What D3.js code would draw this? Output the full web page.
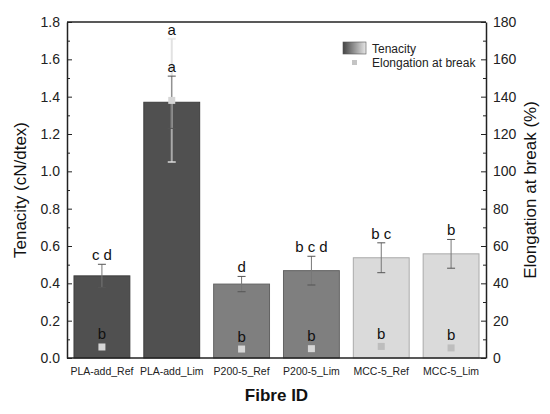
<!DOCTYPE html>
<html lang="en">
<head>
  <meta charset="UTF-8">
  <title>Tenacity and elongation at break</title>
  <script src="https://cdnjs.cloudflare.com/ajax/libs/d3/7.8.5/d3.min.js"></script>
  <style>
    body { margin: 0; padding: 0; background: #fff; }
    svg { display: block; font-family: "Liberation Sans", Arial, sans-serif; }
  </style>
</head>
<body>
<svg id="chart" width="550" height="414"></svg>
<script>
  // Data
  const fibres = ["PLA-add_Ref", "PLA-add_Lim", "P200-5_Ref", "P200-5_Lim", "MCC-5_Ref", "MCC-5_Lim"];
  const tenacity = [0.44, 1.37, 0.396, 0.468, 0.537, 0.558];
  const tenacityErr = [0.062, 0.14, 0.041, 0.077, 0.08, 0.077];
  const tenacityLetters = ["c d", "a", "d", "b c d", "b c", "b"];
  const elongation = [5.9, 138, 4.8, 5.0, 6.2, 5.4];
  const elongationErr = [0.5, 33, 0.5, 0.5, 0.5, 0.5];
  const elongationLetters = ["b", "a", "b", "b", "b", "b"];
  const barFills = ["#505050", "#505050", "#7f7f7f", "#7f7f7f", "#dadada", "#dadada"];
  const leftTicks = [0, 0.2, 0.4, 0.6, 0.8, 1.0, 1.2, 1.4, 1.6, 1.8];
  const rightTicks = [0, 20, 40, 60, 80, 100, 120, 140, 160, 180];

  const svg = d3.select("#chart");
  const margin = { left: 67, right: 64, top: 22, bottom: 56 };
  const W = +svg.attr("width"), H = +svg.attr("height");
  const x0 = margin.left, x1 = W - margin.right, y0 = H - margin.bottom, y1 = margin.top;

  const x = d3.scaleBand().domain(fibres).range([x0, x1]).paddingInner(0.2).paddingOuter(0.1);
  const yL = d3.scaleLinear().domain([0, 1.8]).range([y0, y1]);
  const yR = d3.scaleLinear().domain([0, 180]).range([y0, y1]);

  const rows = fibres.map((f, i) => ({
    f, t: tenacity[i], te: tenacityErr[i], tl: tenacityLetters[i],
    e: elongation[i], ee: elongationErr[i], el: elongationLetters[i], fill: barFills[i]
  }));

  // bars
  svg.append("g").selectAll("rect").data(rows).join("rect")
    .attr("x", d => x(d.f))
    .attr("y", d => yL(d.t))
    .attr("width", x.bandwidth())
    .attr("height", d => yL(0) - yL(d.t))
    .attr("fill", d => d.fill)
    .attr("stroke", d => d3.color(d.fill).darker(0.7))
    .attr("stroke-width", 1);

  const cx = d => x(d.f) + x.bandwidth() / 2;

  // tenacity error bars
  const eb = svg.append("g").attr("stroke", "#777").attr("stroke-width", 1);
  rows.forEach(d => {
    eb.append("line").attr("x1", cx(d)).attr("x2", cx(d))
      .attr("y1", yL(d.t - d.te)).attr("y2", yL(d.t + d.te));
    [d.t - d.te, d.t + d.te].forEach(v => {
      eb.append("line").attr("x1", cx(d) - 4).attr("x2", cx(d) + 4)
        .attr("y1", yL(v)).attr("y2", yL(v)).attr("stroke", "#555");
    });
  });

  // elongation error bars: light line, lighter above the bar than on it
  const ee = svg.append("g").attr("stroke-width", 2);
  rows.filter(d => d.ee > 1).forEach(d => {
    const barTop = yL(d.t);
    ee.append("line").attr("x1", cx(d)).attr("x2", cx(d))
      .attr("y1", yR(d.e - d.ee)).attr("y2", barTop)
      .attr("stroke", "#e4e4e4").attr("stroke-opacity", 0.6);
    ee.append("line").attr("x1", cx(d)).attr("x2", cx(d))
      .attr("y1", barTop).attr("y2", yR(d.e + d.ee))
      .attr("stroke", "#e2e2e2");
    [d.e - d.ee, d.e + d.ee].forEach(v => {
      ee.append("line").attr("x1", cx(d) - 4).attr("x2", cx(d) + 4)
        .attr("y1", yR(v)).attr("y2", yR(v))
        .attr("stroke", "#e2e2e2").attr("stroke-opacity", 0.7);
    });
    // tenacity cap above the bar stays visible through the light line
    eb.raise();
    eb.selectAll("line").filter(function() { return +this.getAttribute("y1") < barTop && this.getAttribute("x1") == this.getAttribute("x2"); }).remove();
  });

  // elongation markers
  const sq = 7;
  svg.append("g").selectAll("rect").data(rows).join("rect")
    .attr("x", d => cx(d) - sq / 2)
    .attr("y", d => yR(d.e) - sq / 2)
    .attr("width", sq).attr("height", sq)
    .attr("fill", d => d.fill === "#dadada" ? "#bdbdbd" : "#d6d6d6");

  // letters
  const letters = svg.append("g").attr("font-size", 15).attr("text-anchor", "middle").attr("fill", "#111");
  rows.forEach(d => {
    letters.append("text").attr("x", cx(d)).attr("y", yL(d.t + d.te) - 4).text(d.tl);
    const top = d.ee > 1 ? yR(d.e + d.ee) : yR(d.e) - sq / 2;
    letters.append("text").attr("x", cx(d)).attr("y", top - 4).text(d.el);
  });

  // frame + axes
  svg.append("line").attr("x1", x0).attr("x2", x1).attr("y1", y1).attr("y2", y1)
    .attr("stroke", "#222").attr("stroke-width", 1.5);
  svg.append("line").attr("x1", x0).attr("x2", x1).attr("y1", y0).attr("y2", y0)
    .attr("stroke", "#222").attr("stroke-width", 1.5);

  const minorL = d3.range(0.1, 1.8, 0.2);
  const minorR = d3.range(10, 180, 20);

  const gl = svg.append("g").attr("transform", `translate(${x0},0)`);
  gl.call(d3.axisLeft(yL).tickValues(leftTicks).tickFormat(d3.format(".1f"))
    .tickSizeInner(-5).tickSizeOuter(0).tickPadding(7));
  gl.append("g").call(d3.axisLeft(yL).tickValues(minorL).tickFormat("").tickSizeInner(-3).tickSizeOuter(0))
    .select(".domain").remove();

  const gr = svg.append("g").attr("transform", `translate(${x1},0)`);
  gr.call(d3.axisRight(yR).tickValues(rightTicks).tickFormat(d3.format("d"))
    .tickSizeInner(-5).tickSizeOuter(0).tickPadding(7));
  gr.append("g").call(d3.axisRight(yR).tickValues(minorR).tickFormat("").tickSizeInner(-3).tickSizeOuter(0))
    .select(".domain").remove();

  [gl, gr].forEach(g => {
    g.selectAll(".domain").attr("stroke", "#222").attr("stroke-width", 1.5);
    g.selectAll(".tick line").attr("stroke", "#222");
    g.selectAll(".tick text").attr("font-size", 14).attr("fill", "#222").attr("font-family", "Liberation Sans, Arial, sans-serif");
  });

  // category labels
  svg.append("g").attr("font-size", 10.5).attr("text-anchor", "middle").attr("fill", "#222")
    .selectAll("text").data(fibres).join("text")
    .attr("x", f => x(f) + x.bandwidth() / 2)
    .attr("y", y0 + 17)
    .text(f => f);

  // axis titles
  svg.append("text").attr("x", (x0 + x1) / 2).attr("y", y0 + 43)
    .attr("text-anchor", "middle").attr("font-size", 17).attr("font-weight", "bold").attr("fill", "#111")
    .text("Fibre ID");
  svg.append("text").attr("transform", `translate(26,${(y0 + y1) / 2}) rotate(-90)`)
    .attr("text-anchor", "middle").attr("font-size", 17).attr("fill", "#111")
    .text("Tenacity (cN/dtex)");
  svg.append("text").attr("transform", `translate(536,${(y0 + y1) / 2}) rotate(-90)`)
    .attr("text-anchor", "middle").attr("font-size", 17).attr("fill", "#111")
    .text("Elongation at break (%)");

  // legend
  const grad = svg.append("defs").append("linearGradient").attr("id", "legGrad");
  grad.append("stop").attr("offset", "0%").attr("stop-color", "#444");
  grad.append("stop").attr("offset", "100%").attr("stop-color", "#e6e6e6");
  const leg = svg.append("g").attr("font-size", 12).attr("fill", "#222");
  leg.append("rect").attr("x", 343).attr("y", 42).attr("width", 23).attr("height", 12)
    .attr("fill", "url(#legGrad)").attr("stroke", "#555").attr("stroke-width", 0.6);
  leg.append("text").attr("x", 372).attr("y", 53).text("Tenacity");
  leg.append("rect").attr("x", 352).attr("y", 60).attr("width", 5).attr("height", 5).attr("fill", "#c4c4c4");
  leg.append("text").attr("x", 372).attr("y", 67).text("Elongation at break");
</script>
</body>
</html>
